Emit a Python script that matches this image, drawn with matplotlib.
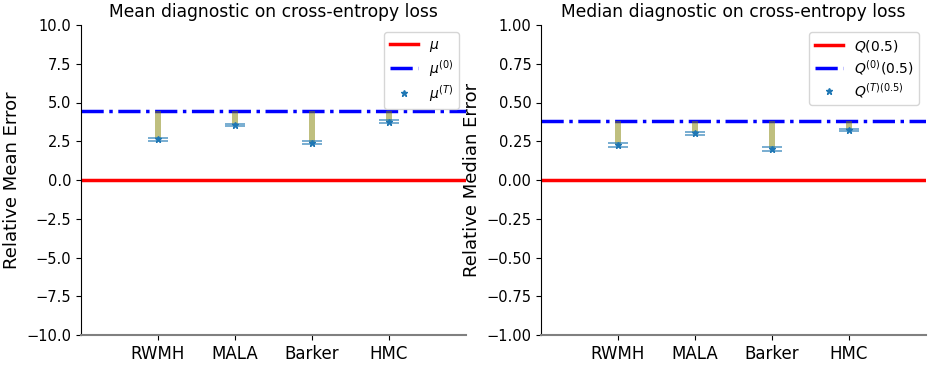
import matplotlib
matplotlib.use("Agg")
import matplotlib.pyplot as plt
import numpy as np

methods = ["RWMH", "MALA", "Barker", "HMC"]

# mean diagnostic (relative error)
mean_true = 0.0
mean_init = 4.47
mean_final = [2.63, 3.55, 2.41, 3.76]
mean_err = [0.10, 0.08, 0.10, 0.08]

# median diagnostic (relative error)
median_true = 0.0
median_init = 0.38
median_final = [0.226, 0.301, 0.200, 0.323]
median_err = [0.010, 0.008, 0.010, 0.008]

panels = [
    dict(title="Mean diagnostic on cross-entropy loss", ylabel="Relative Mean Error",
         true=mean_true, init=mean_init, final=mean_final, err=mean_err,
         lim=10, step=2.5,
         labels=[r"$\mu$", r"$\mu^{(0)}$", r"$\mu^{(T)}$"]),
    dict(title="Median diagnostic on cross-entropy loss", ylabel="Relative Median Error",
         true=median_true, init=median_init, final=median_final, err=median_err,
         lim=1, step=0.25,
         labels=[r"$Q(0.5)$", r"$Q^{(0)}(0.5)$", r"$Q^{(T)(0.5)}$"]),
]

fig = plt.figure(figsize=(9.34, 3.65), dpi=100)
lefts = [81 / 934, 541 / 934]

for left, p in zip(lefts, panels):
    ax = fig.add_axes([left, 30 / 365, 385 / 934, 310 / 365])
    x = np.arange(1, len(methods) + 1)
    final = np.array(p["final"])

    ax.axhline(p["true"], color="red", lw=2.5, label=p["labels"][0])
    ax.axhline(p["init"], color="blue", lw=2.5, ls="-.", label=p["labels"][1])
    ax.bar(x, final - p["init"], bottom=p["init"], width=0.08,
           color="olive", alpha=0.5, zorder=3)
    ax.errorbar(x, final, yerr=p["err"], fmt="none", ecolor="#1f77b4",
                alpha=0.7, capsize=7.5, capthick=1.2, elinewidth=1.0, zorder=4)
    ax.plot(x, final, "*", color="#1f77b4", ms=5, ls="none", zorder=5,
            label=p["labels"][2])

    ax.set_xlim(0, 5)
    ax.set_ylim(-p["lim"], p["lim"])
    ax.set_yticks(np.arange(-p["lim"], p["lim"] + p["step"] / 2, p["step"]))
    ax.set_xticks(x)
    ax.set_xticklabels(methods)
    ax.tick_params(axis="x", labelsize=12)
    ax.tick_params(axis="y", labelsize=10.5)
    ax.set_title(p["title"], fontsize=12.3)
    ax.set_ylabel(p["ylabel"], fontsize=13)
    ax.spines["top"].set_visible(False)
    ax.spines["right"].set_visible(False)
    ax.spines["bottom"].set_color("gray")
    ax.spines["bottom"].set_linewidth(1.5)
    ax.legend(loc="upper right", fontsize=10, labelspacing=0.3)

fig.savefig("out.png", dpi=100)
